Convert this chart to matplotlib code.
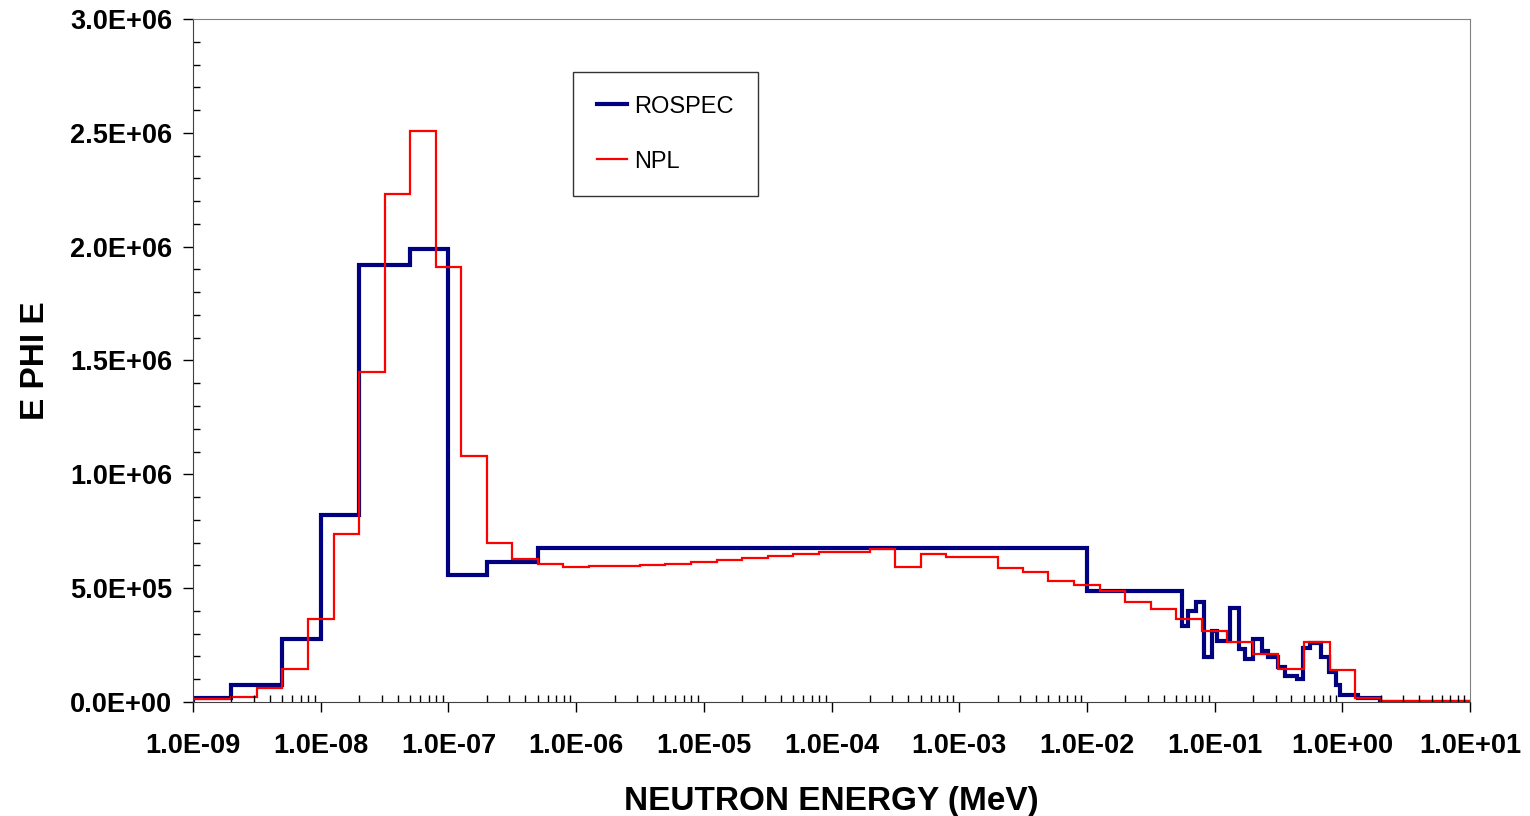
import matplotlib
matplotlib.use('Agg')
import matplotlib.pyplot as plt
from matplotlib.ticker import MultipleLocator, FuncFormatter, LogLocator

plt.rcParams['font.family'] = ['Liberation Sans', 'DejaVu Sans']

# ROSPEC: bin edges (MeV) and E*PHI(E) per bin
rospec_edges = [1e-9, 2e-9, 5e-9, 1e-8, 2e-8, 5e-8, 1e-7, 2e-7, 5e-7, 1e-2,
                5.6e-2, 6.2e-2, 7.1e-2, 8.2e-2, 9.5e-2, 0.104, 0.132, 0.156, 0.173,
                0.199, 0.236, 0.263, 0.315, 0.355, 0.438, 0.489, 0.557, 0.676,
                0.789, 0.891, 0.96, 1.33, 1.97, 10.0]
rospec_vals = [1.9e4, 7.3e4, 2.75e5, 8.2e5, 1.92e6, 1.99e6, 5.58e5, 6.16e5, 6.76e5,
               4.87e5, 3.34e5, 4.01e5, 4.38e5, 1.96e5, 3.13e5, 2.68e5, 4.11e5, 2.31e5,
               1.89e5, 2.77e5, 2.24e5, 1.99e5, 1.52e5, 1.16e5, 1.01e5, 2.39e5, 2.58e5,
               1.96e5, 1.30e5, 7.5e4, 3.1e4, 1.6e4, 2e3]

# NPL: bin edges (MeV) and E*PHI(E) per bin
npl_edges = [1e-9, 2e-9, 3.16e-9, 5e-9, 7.94e-9, 1.26e-8, 2e-8, 3.16e-8, 5e-8, 7.94e-8,
             1.26e-7, 2e-7, 3.16e-7, 5e-7, 7.94e-7, 1.26e-6, 2e-6, 3.16e-6, 5e-6,
             7.94e-6, 1.26e-5, 2e-5, 3.16e-5, 5e-5, 7.94e-5, 1.26e-4, 2e-4, 3.16e-4,
             5e-4, 7.94e-4, 1.26e-3, 2e-3, 3.16e-3, 5e-3, 7.94e-3, 1.26e-2, 2e-2,
             3.16e-2, 5e-2, 7.94e-2, 0.126, 0.2, 0.316, 0.5, 0.794, 1.26, 2.0, 10.0]
npl_vals = [1.2e4, 2.3e4, 6.3e4, 1.45e5, 3.65e5, 7.4e5, 1.45e6, 2.23e6, 2.51e6, 1.91e6,
            1.08e6, 6.97e5, 6.27e5, 6.06e5, 5.93e5, 5.99e5, 5.99e5, 6.0e5, 6.05e5,
            6.13e5, 6.22e5, 6.31e5, 6.41e5, 6.51e5, 6.57e5, 6.58e5, 6.74e5, 5.93e5,
            6.5e5, 6.35e5, 6.35e5, 5.87e5, 5.71e5, 5.33e5, 5.12e5, 4.87e5, 4.41e5,
            4.08e5, 3.65e5, 3.12e5, 2.65e5, 2.09e5, 1.45e5, 2.62e5, 1.42e5, 1.6e4, 3e3]

fig = plt.figure(figsize=(15.3, 8.16), dpi=100)
ax = fig.add_axes([193 / 1530, 114 / 816, 1277 / 1530, 683 / 816])

ax.stairs(rospec_vals, rospec_edges, color='#000080', linewidth=3.0, label='ROSPEC')
ax.stairs(npl_vals, npl_edges, color='#ff0000', linewidth=1.6, label='NPL')

ax.set_xscale('log')
ax.set_xlim(1e-9, 10)
ax.set_ylim(0, 3e6)

ax.yaxis.set_major_locator(MultipleLocator(5e5))
ax.yaxis.set_minor_locator(MultipleLocator(1e5))
ax.yaxis.set_major_formatter(FuncFormatter(lambda v, p: '%.1E' % v))
ax.xaxis.set_major_locator(LogLocator(base=10, numticks=20))
ax.xaxis.set_minor_locator(LogLocator(base=10, subs=range(2, 10), numticks=20))
ax.xaxis.set_major_formatter(FuncFormatter(lambda v, p: '%.1E' % v))

ax.tick_params(which='major', direction='out', length=7, width=1, labelsize=19.5)
ax.tick_params(axis='x', which='major', pad=15)
ax.tick_params(axis='y', which='major', pad=8)
ax.tick_params(which='minor', direction='in', length=5, width=1)
for lab in ax.get_xticklabels() + ax.get_yticklabels():
    lab.set_fontweight('bold')

for side in ['top', 'right']:
    ax.spines[side].set_color('#808080')
for side in ['left', 'bottom']:
    ax.spines[side].set_color('#404040')

ax.set_xlabel('NEUTRON ENERGY (MeV)', fontsize=24, fontweight='bold', labelpad=20)
ax.set_ylabel('E PHI E', fontsize=24, fontweight='bold', labelpad=14)

leg = ax.legend(loc='upper left', bbox_to_anchor=(573 / 1530, 1 - 72 / 816),
                bbox_transform=fig.transFigure, fontsize=17, frameon=True,
                fancybox=False, edgecolor='black', handlelength=1.3,
                handletextpad=0.3, labelspacing=1.4, borderpad=1.0, borderaxespad=0)
leg.get_frame().set_linewidth(1.0)

fig.savefig('out.png', dpi=100)
